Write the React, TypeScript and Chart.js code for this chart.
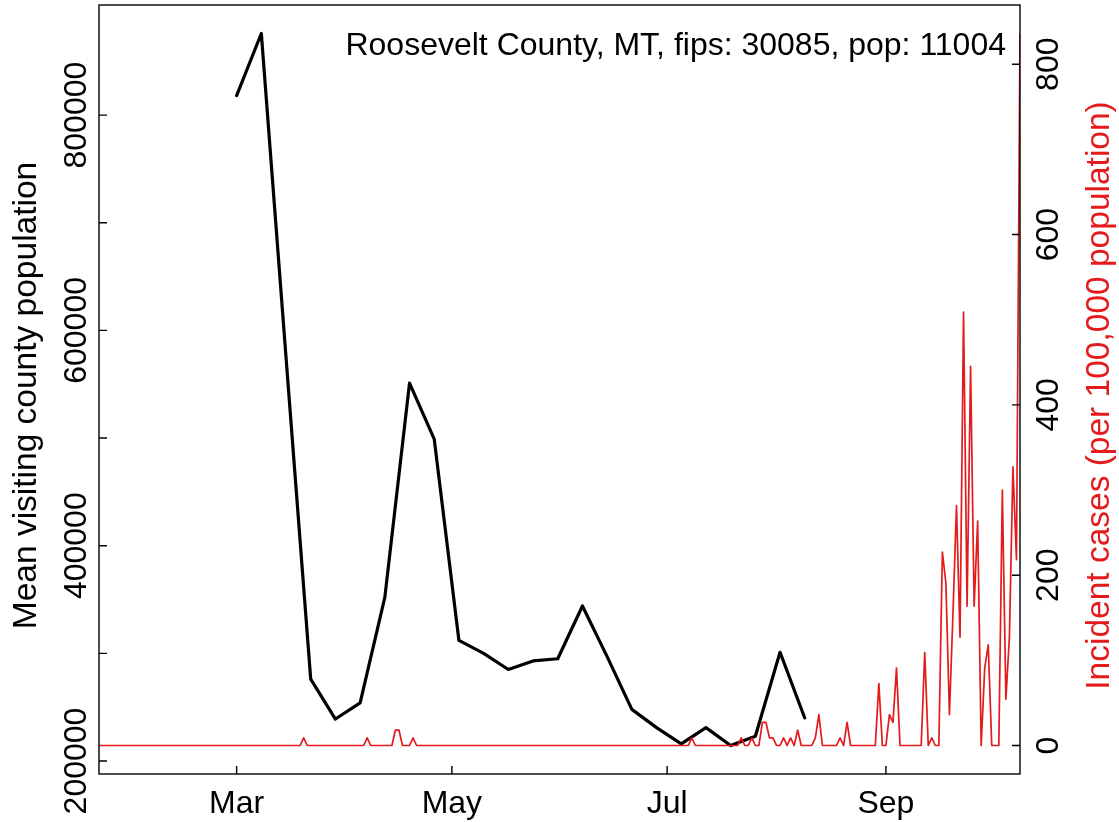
import React, { useEffect, useRef } from "react";
import { Chart, registerables } from "chart.js";

Chart.register(...registerables);

// ---------- text ----------
const COUNTY_LABEL = "Roosevelt County, MT, fips: 30085, pop: 11004";
const POPULATION = 11004;
const LEFT_AXIS_TITLE = "Mean visiting county population";
const RIGHT_AXIS_TITLE = "Incident cases (per 100,000 population)";

// ---------- axes ----------
const monthTickDates = ["2020-03-01", "2020-05-01", "2020-07-01", "2020-09-01"];
const monthTickLabels = ["Mar", "May", "Jul", "Sep"];
const leftTickValues = [200000, 300000, 400000, 500000, 600000, 700000, 800000];
const leftTickLabels = ["200000", "", "400000", "", "600000", "", "800000"];
const rightTickValues = [0, 200, 400, 600, 800];
const rightTickLabels = ["0", "200", "400", "600", "800"];

// ---------- weekly mean visiting county population (black) ----------
const visitWeekDates = [
  "2020-03-01", "2020-03-08", "2020-03-15", "2020-03-22", "2020-03-29",
  "2020-04-05", "2020-04-12", "2020-04-19", "2020-04-26", "2020-05-03",
  "2020-05-10", "2020-05-17", "2020-05-24", "2020-05-31", "2020-06-07",
  "2020-06-14", "2020-06-21", "2020-06-28", "2020-07-05", "2020-07-12",
  "2020-07-19", "2020-07-26", "2020-08-02", "2020-08-09",
];
const visitMeanPopulation = [
  818000, 875800, 575000, 276000, 239000,
  254000, 352000, 551000, 499000, 312000,
  300000, 285000, 293000, 295000, 344000,
  297000, 248000, 231000, 216000, 231000,
  214400, 223000, 301000, 240000,
];

// ---------- daily new cases (red), starting 2020-01-22 ----------
const casesStartDate = "2020-01-22";
const casesJan = [0, 0, 0, 0, 0, 0, 0, 0, 0, 0]; // Jan 22-31
const casesFeb = [
  0, 0, 0, 0, 0, 0, 0, 0, 0, 0, 0, 0, 0, 0, 0,
  0, 0, 0, 0, 0, 0, 0, 0, 0, 0, 0, 0, 0, 0,
];
const casesMar = [
  0, 0, 0, 0, 0, 0, 0, 0, 0, 0, 0, 0, 0, 0, 0, 0,
  0, 0, 0, 1, 0, 0, 0, 0, 0, 0, 0, 0, 0, 0, 0,
];
const casesApr = [
  0, 0, 0, 0, 0, 0, 1, 0, 0, 0, 0, 0, 0, 0, 2,
  2, 0, 0, 0, 1, 0, 0, 0, 0, 0, 0, 0, 0, 0, 0,
];
const casesMay = [
  0, 0, 0, 0, 0, 0, 0, 0, 0, 0, 0, 0, 0, 0, 0, 0,
  0, 0, 0, 0, 0, 0, 0, 0, 0, 0, 0, 0, 0, 0, 0,
];
const casesJun = [
  0, 0, 0, 0, 0, 0, 0, 0, 0, 0, 0, 0, 0, 0, 0,
  0, 0, 0, 0, 0, 0, 0, 0, 0, 0, 0, 0, 0, 0, 0,
];
const casesJul = [
  0, 0, 0, 0, 0, 0, 0, 1, 0, 0, 0, 0, 0, 0, 0, 0,
  0, 0, 0, 0, 0, 1, 0, 0, 1, 0, 0, 3, 3, 1, 1,
];
const casesAug = [
  0, 0, 1, 0, 1, 0, 2, 0, 0, 0, 0, 1, 4, 0, 0, 0,
  0, 0, 1, 0, 3, 0, 0, 0, 0, 0, 0, 0, 0, 8, 0,
];
const casesSep = [
  0, 4, 3, 10, 0, 0, 0, 0, 0, 0, 0, 12, 0, 1, 0,
  0, 25, 21, 4, 17, 31, 14, 56, 18, 49, 18, 29, 0, 10, 13,
];
const casesOct = [0, 0, 0, 33, 6, 14, 36, 24, 92]; // Oct 1-9

// ---------- styling ----------
const FONT = '"Liberation Sans", Arial, Helvetica, sans-serif';
const FS = 32;
const FS_TITLE = 33.5;
const RED = "#E41A1C";

function dayOf(iso: string): number {
  const [y, m, d] = iso.split("-").map(Number);
  return Math.round((Date.UTC(y, m - 1, d) - Date.UTC(2020, 2, 1)) / 86400000);
}

function padRange(vals: number[]) {
  const lo = Math.min(...vals);
  const hi = Math.max(...vals);
  const r = hi - lo;
  return { min: lo - 0.04 * r, max: hi + 0.04 * r };
}

function drawUp(ctx: CanvasRenderingContext2D, text: string, x: number, y: number) {
  ctx.save();
  ctx.translate(x, y);
  ctx.rotate(-Math.PI / 2);
  ctx.fillText(text, 0, 0);
  ctx.restore();
}

const decorations = {
  id: "decorations",
  afterDatasetsDraw(chart: any) {
    const { ctx, chartArea: a } = chart;
    const xs = chart.scales.x;
    const yl = chart.scales.yLeft;
    const yr = chart.scales.yRight;
    ctx.save();
    ctx.strokeStyle = "#000";
    ctx.lineWidth = 1.4;
    ctx.strokeRect(a.left, a.top, a.right - a.left, a.bottom - a.top);
    const TL = 8;
    ctx.beginPath();
    monthTickDates.forEach((d) => {
      const px = xs.getPixelForValue(dayOf(d));
      ctx.moveTo(px, a.bottom);
      ctx.lineTo(px, a.bottom - TL);
    });
    leftTickValues.forEach((v) => {
      const py = yl.getPixelForValue(v);
      ctx.moveTo(a.left, py);
      ctx.lineTo(a.left + TL, py);
    });
    rightTickValues.forEach((v) => {
      const py = yr.getPixelForValue(v);
      ctx.moveTo(a.right, py);
      ctx.lineTo(a.right - TL, py);
    });
    ctx.stroke();

    ctx.font = `${FS}px ${FONT}`;
    ctx.fillStyle = "#000";
    ctx.textAlign = "center";
    ctx.textBaseline = "alphabetic";
    leftTickValues.forEach((v, i) => {
      if (!leftTickLabels[i]) return;
      drawUp(ctx, leftTickLabels[i], a.left - 13, yl.getPixelForValue(v));
    });
    rightTickValues.forEach((v, i) => {
      drawUp(ctx, rightTickLabels[i], a.right + 38, yr.getPixelForValue(v));
    });
    const midY = (a.top + a.bottom) / 2 + 6;
    ctx.font = `${FS_TITLE}px ${FONT}`;
    drawUp(ctx, LEFT_AXIS_TITLE, 36, midY);
    ctx.fillStyle = RED;
    drawUp(ctx, RIGHT_AXIS_TITLE, a.right + 89, midY);

    ctx.font = `${FS}px ${FONT}`;
    ctx.fillStyle = "#000";
    ctx.textAlign = "right";
    ctx.fillText(COUNTY_LABEL, a.right - 14, 55);
    ctx.restore();
  },
};

export default function App() {
  const ref = useRef<HTMLCanvasElement | null>(null);

  useEffect(() => {
    if (!ref.current) return;
    const caseCounts = [
      ...casesJan, ...casesFeb, ...casesMar, ...casesApr, ...casesMay,
      ...casesJun, ...casesJul, ...casesAug, ...casesSep, ...casesOct,
    ];
    const start = dayOf(casesStartDate);
    const incidence = caseCounts.map((c) => (c * 100000) / POPULATION);
    const redPoints = incidence.map((v, i) => ({ x: start + i, y: v }));
    const blackPoints = visitWeekDates.map((d, i) => ({ x: dayOf(d), y: visitMeanPopulation[i] }));
    const leftRange = padRange(visitMeanPopulation);
    const rightRange = padRange(incidence);

    const chart = new Chart(ref.current, {
      type: "line",
      data: {
        datasets: [
          {
            label: "Incident cases",
            data: redPoints,
            yAxisID: "yRight",
            borderColor: RED,
            borderWidth: 1.7,
            pointRadius: 0,
            tension: 0,
            borderJoinStyle: "round",
            order: 0,
          },
          {
            label: "Mean visiting county population",
            data: blackPoints,
            yAxisID: "yLeft",
            borderColor: "#000",
            borderWidth: 3.2,
            pointRadius: 0,
            tension: 0,
            borderJoinStyle: "round",
            borderCapStyle: "round",
            order: 1,
          },
        ],
      },
      options: {
        responsive: false,
        animation: false,
        devicePixelRatio: 1,
        layout: { padding: { left: 99, right: 99, top: 5, bottom: 0 } },
        plugins: { legend: { display: false }, title: { display: false }, tooltip: { enabled: false } },
        scales: {
          x: {
            type: "linear",
            position: "bottom",
            min: start,
            max: start + caseCounts.length - 1,
            grid: { display: false },
            border: { display: false },
            afterBuildTicks: (scale: any) => {
              scale.ticks = monthTickDates.map((d) => ({ value: dayOf(d) }));
            },
            afterFit: (scale: any) => {
              scale.height = 48;
            },
            ticks: {
              autoSkip: false,
              maxRotation: 0,
              minRotation: 0,
              padding: 3,
              color: "#000",
              font: { family: FONT, size: FS },
              callback: (_v: any, i: number) => monthTickLabels[i],
            },
          },
          yLeft: {
            type: "linear",
            display: false,
            min: leftRange.min,
            max: leftRange.max,
          },
          yRight: {
            type: "linear",
            display: false,
            min: rightRange.min,
            max: rightRange.max,
          },
        },
      },
      plugins: [decorations],
    });
    return () => chart.destroy();
  }, []);

  return (
    <div style={{ position: "fixed", left: 0, top: 0, width: 1119, height: 822, background: "#fff" }}>
      <canvas ref={ref} width={1119} height={822} style={{ display: "block" }} />
    </div>
  );
}
